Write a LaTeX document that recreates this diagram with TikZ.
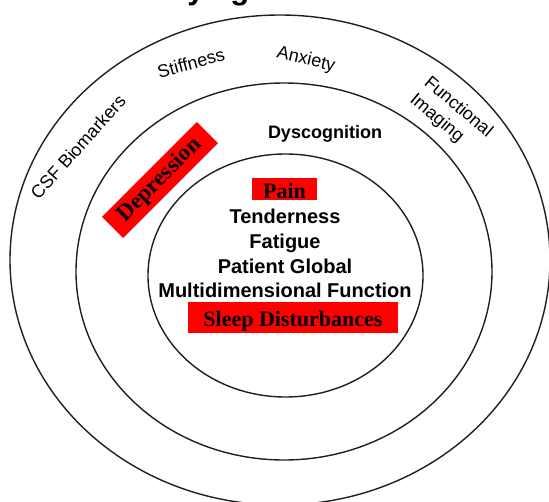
\documentclass[tikz,border=0pt]{standalone}
\usepackage{fontspec}
\setmainfont{Liberation Serif}
\setsansfont{Liberation Sans}
\usetikzlibrary{shapes.geometric}
\definecolor{boxred}{RGB}{255,0,0}
\tikzset{
  ring/.style={ellipse, draw=black!88, line width=1.4pt, inner sep=0pt, outer sep=0pt},
  outerlbl/.style={font=\sffamily\fontsize{18}{22}\selectfont, inner sep=0pt},
  innerlbl/.style={font=\sffamily\bfseries\fontsize{20}{24}\selectfont, inner sep=0pt, anchor=base},
  redbox/.style={fill=boxred, text=black, inner sep=0pt, font=\rmfamily\bfseries\fontsize{22}{24}\selectfont},
}
\begin{document}
\begin{tikzpicture}[x=1pt,y=-1pt]
\useasboundingbox (0,0) rectangle (549,501);
\clip (0,0) rectangle (549,501);
% title (cut off at the top)
\node[font=\sffamily\bfseries\fontsize{31}{34}\selectfont, anchor=base west, inner sep=0pt] (title) at (82,-0.5) {Fibromyalgia};
% rings
\node[ring, minimum width=540pt, minimum height=490pt] (outer) at (280,260) {};
\node[ring, minimum width=416pt, minimum height=377pt] (middle) at (284,271.5) {};
\node[ring, minimum width=275pt, minimum height=243pt] (inner) at (285.5,275.5) {};
% outer ring labels
\node[outerlbl, rotate=15] (stiff) at (191,63) {Stiffness};
\node[outerlbl, rotate=-13] (anx) at (306,60) {Anxiety};
\node[outerlbl, rotate=48] (csf) at (78,147) {CSF Biomarkers};
\node[outerlbl, rotate=-40, align=left] (fimg) at (451,116) {Functional\\Imaging};
% middle ring labels
\node[font=\sffamily\bfseries\fontsize{18}{22}\selectfont, anchor=base, inner sep=0pt] (dys) at (325,138) {Dyscognition};
\node[redbox, rotate=45, minimum width=134pt, minimum height=30pt, font=\rmfamily\bfseries\fontsize{23}{25}\selectfont] (dep) at (160,180) {Depression};
% inner circle labels
\node[redbox, anchor=base, minimum width=65pt, text height=20pt, text depth=2pt] (pain) at (284.5,198) {Pain};
\node[innerlbl] (tend) at (285,223) {Tenderness};
\node[innerlbl] (fat) at (285,248) {Fatigue};
\node[innerlbl] (pg) at (285,273) {Patient Global};
\node[innerlbl] (mf) at (285,297) {Multidimensional Function};
\node[redbox, anchor=base, minimum width=210pt, text height=24pt, text depth=7pt] (sleep) at (293,326) {Sleep Disturbances};
\end{tikzpicture}
\end{document}
